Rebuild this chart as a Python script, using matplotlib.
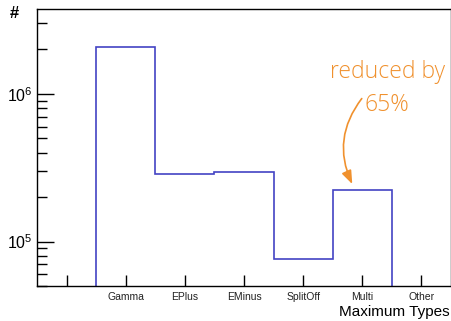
import matplotlib

matplotlib.use("Agg")
import matplotlib.pyplot as plt
import numpy as np
from matplotlib.ticker import FixedLocator, LogLocator, NullFormatter

# 데이터
categories = ["Gamma", "EPlus", "EMinus", "SplitOff", "Multi", "Other"]
counts = [2.08e6, 2.87e5, 2.97e5, 7.67e4, 2.23e5, 0]

plt.rcParams["font.family"] = ["Liberation Sans", "DejaVu Sans"]
plt.rcParams["mathtext.fontset"] = "custom"
plt.rcParams["mathtext.rm"] = "Liberation Sans"
plt.rcParams["mathtext.default"] = "regular"

fig = plt.figure(figsize=(4.52, 3.21), dpi=100)
ax = fig.add_axes([0.0819, 0.109, 0.916, 0.863])

# 0이 아닌 빈만 그리기 (로그 스케일)
nonzero = [c for c in counts if c > 0]
edges = np.arange(len(nonzero) + 1) - 0.5
ax.stairs(nonzero, edges, baseline=1, color="#4343c4", lw=1.2)

ax.set_yscale("log")
ax.set_ylim(5.0e4, 3.76e6)
ax.set_xlim(-1.5, 5.5)

# x축 눈금: 빈 중심 (-1은 라벨 없음)
ax.set_xticks(np.arange(-1, len(categories)))
ax.set_xticklabels([""] + categories, fontsize=7.5, color="#222222")
ax.tick_params(axis="x", direction="in", length=8, width=1, pad=4)

ax.yaxis.set_major_locator(FixedLocator([1e5, 1e6]))
ax.set_yticklabels(["10$^{5}$", "10$^{6}$"], fontsize=11.5)
ax.yaxis.set_minor_locator(LogLocator(base=10, subs=np.arange(2, 10)))
ax.yaxis.set_minor_formatter(NullFormatter())
ax.tick_params(axis="y", which="major", direction="in", length=12, width=1, pad=3)
ax.tick_params(axis="y", which="minor", direction="in", length=7, width=1)

for s in ax.spines.values():
    s.set_linewidth(1)

fig.text(14 / 452, 1 - 13 / 321, "#", fontsize=12, fontweight="bold",
         ha="center", va="center")
fig.text(450 / 452, 1 - 312 / 321, "Maximum Types", fontsize=11, ha="right", va="center")

orange = "#f0912e"
ax.text(4.42, 1.08e6, "reduced by\n65%", color=orange, fontsize=16.5,
        family=["Open Sans", "DejaVu Sans"], fontweight="light",
        ha="center", va="center", linespacing=1.5)
ax.annotate("", xy=(3.83, 2.45e5), xytext=(3.99, 9.3e5),
            arrowprops=dict(arrowstyle="-|>,head_length=0.8,head_width=0.3",
                            connectionstyle="arc3,rad=0.3", color=orange, lw=1.2,
                            shrinkA=0, shrinkB=0))

fig.savefig("out.png", dpi=100)
